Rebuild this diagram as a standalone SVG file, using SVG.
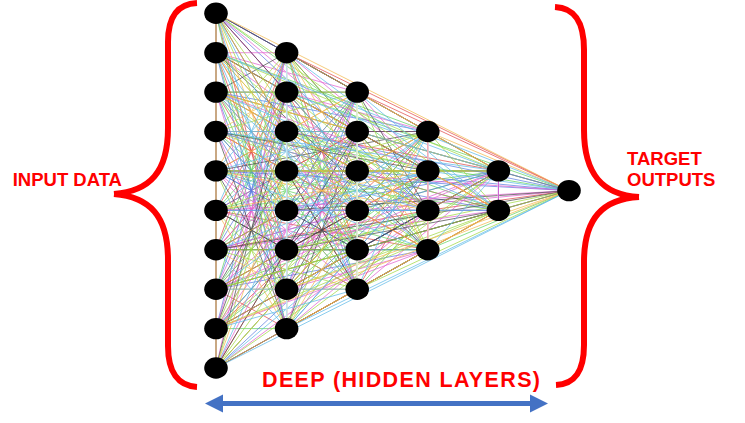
<svg xmlns="http://www.w3.org/2000/svg" width="745" height="423" viewBox="0 0 745 423">
<style>
.e{fill:none;stroke-width:1;stroke-opacity:.72;vector-effect:non-scaling-stroke}
.k0{stroke:#e04848}.k1{stroke:#5fd35f}.k2{stroke:#5b7be0}.k3{stroke:#e060d0}
.k4{stroke:#4a4a4a}.k5{stroke:#a0d840}.k6{stroke:#f2b84b}.k7{stroke:#5cb8e8}
.n{fill:#000}
.br{fill:none;stroke:#ff0000;stroke-width:6;stroke-linecap:butt}
.t{font-family:"Liberation Sans",Arial,sans-serif;font-weight:bold;fill:#ff0000}
</style>
<rect width="745" height="423" fill="#fff"/>
<g id="connectors">
<g transform="translate(216 13.3) scale(70.6 39.41)">
<path class="e k0" d="M0 0L0 8M0 1L0 7M0 2L0 6M0 3L0 5M0 0L1 7M0 1L1 6M0 2L1 5M0 3L1 4M0 4L1 3M0 5L1 2M0 6L1 1M0 7L0 9M0 0L3 3M0 1L2 7M0 2L2 6M0 3L2 5M0 4L2 4M0 5L2 3M0 6L2 2M0 7L1 8M0 8L1 7M0 9L1 6M1 1L1 5M1 2L1 4M0 2L5 4.5M0 3L4 5M0 4L4 4M0 5L3 6M0 6L3 5M0 7L3 4M0 8L3 3M0 9L2 7M1 1L2 6M1 2L2 5M1 3L2 4M1 4L2 3M1 5L2 2M1 6L1 8M1 1L5 4.5M1 2L4 5M1 3L4 4M1 4L3 6M1 5L3 5M1 6L3 4M1 7L3 3M1 8L2 7M2 2L2 6M2 3L2 5M2 2L5 4.5M2 3L4 5M2 4L4 4M2 5L3 6M2 6L3 5M2 7L3 4M3 5L5 4.5M3 6L4 5"/>
<path class="e k1" d="M0 0L0 1M0 0L0 9M0 1L0 8M0 2L0 7M0 3L0 6M0 4L0 5M0 0L1 8M0 1L1 7M0 2L1 6M0 3L1 5M0 4L1 4M0 5L1 3M0 6L1 2M0 7L1 1M0 8L0 9M0 0L3 4M0 1L3 3M0 2L2 7M0 3L2 6M0 4L2 5M0 5L2 4M0 6L2 3M0 7L2 2M0 8L1 8M0 9L1 7M1 1L1 6M1 2L1 5M1 3L1 4M0 3L5 4.5M0 4L4 5M0 5L4 4M0 6L3 6M0 7L3 5M0 8L3 4M0 9L3 3M1 1L2 7M1 2L2 6M1 3L2 5M1 4L2 4M1 5L2 3M1 6L2 2M1 7L1 8M1 2L5 4.5M1 3L4 5M1 4L4 4M1 5L3 6M1 6L3 5M1 7L3 4M1 8L3 3M2 2L2 7M2 3L2 6M2 4L2 5M2 3L5 4.5M2 4L4 5M2 5L4 4M2 6L3 6M2 7L3 5M3 3L3 4M3 6L5 4.5M4 4L4 5"/>
<path class="e k2" d="M0 0L0 2M0 0L1 1M0 1L0 9M0 2L0 8M0 3L0 7M0 4L0 6M0 0L2 2M0 1L1 8M0 2L1 7M0 3L1 6M0 4L1 5M0 5L1 4M0 6L1 3M0 7L1 2M0 8L1 1M0 0L3 5M0 1L3 4M0 2L3 3M0 3L2 7M0 4L2 6M0 5L2 5M0 6L2 4M0 7L2 3M0 8L2 2M0 9L1 8M1 1L1 7M1 2L1 6M1 3L1 5M0 4L5 4.5M0 5L4 5M0 6L4 4M0 7L3 6M0 8L3 5M0 9L3 4M1 1L3 3M1 2L2 7M1 3L2 6M1 4L2 5M1 5L2 4M1 6L2 3M1 7L2 2M1 3L5 4.5M1 4L4 5M1 5L4 4M1 6L3 6M1 7L3 5M1 8L3 4M2 2L3 3M2 3L2 7M2 4L2 6M2 4L5 4.5M2 5L4 5M2 6L4 4M2 7L3 6M3 3L3 5M4 4L5 4.5"/>
<path class="e k3" d="M0 0L0 3M0 1L0 2M0 0L1 2M0 1L1 1M0 2L0 9M0 3L0 8M0 4L0 7M0 5L0 6M0 0L2 3M0 1L2 2M0 2L1 8M0 3L1 7M0 4L1 6M0 5L1 5M0 6L1 4M0 7L1 3M0 8L1 2M0 9L1 1M0 0L3 6M0 1L3 5M0 2L3 4M0 3L3 3M0 4L2 7M0 5L2 6M0 6L2 5M0 7L2 4M0 8L2 3M0 9L2 2M1 1L1 8M1 2L1 7M1 3L1 6M1 4L1 5M0 5L5 4.5M0 6L4 5M0 7L4 4M0 8L3 6M0 9L3 5M1 1L3 4M1 2L3 3M1 3L2 7M1 4L2 6M1 5L2 5M1 6L2 4M1 7L2 3M1 8L2 2M1 4L5 4.5M1 5L4 5M1 6L4 4M1 7L3 6M1 8L3 5M2 2L3 4M2 3L3 3M2 4L2 7M2 5L2 6M2 5L5 4.5M2 6L4 5M2 7L4 4M3 3L3 6M3 4L3 5M4 5L5 4.5"/>
<path class="e k4" d="M0 0L0 4M0 1L0 3M0 0L1 3M0 1L1 2M0 2L1 1M0 3L0 9M0 4L0 8M0 5L0 7M0 0L2 4M0 1L2 3M0 2L2 2M0 3L1 8M0 4L1 7M0 5L1 6M0 6L1 5M0 7L1 4M0 8L1 3M0 9L1 2M0 0L4 4M0 1L3 6M0 2L3 5M0 3L3 4M0 4L3 3M0 5L2 7M0 6L2 6M0 7L2 5M0 8L2 4M0 9L2 3M1 1L2 2M1 2L1 8M1 3L1 7M1 4L1 6M0 6L5 4.5M0 7L4 5M0 8L4 4M0 9L3 6M1 1L3 5M1 2L3 4M1 3L3 3M1 4L2 7M1 5L2 6M1 6L2 5M1 7L2 4M1 8L2 3M1 5L5 4.5M1 6L4 5M1 7L4 4M1 8L3 6M2 2L3 5M2 3L3 4M2 4L3 3M2 5L2 7M2 6L5 4.5M2 7L4 5M3 3L4 4M3 4L3 6"/>
<path class="e k5" d="M0 0L0 5M0 1L0 4M0 2L0 3M0 0L1 4M0 1L1 3M0 2L1 2M0 3L1 1M0 4L0 9M0 5L0 8M0 6L0 7M0 0L2 5M0 1L2 4M0 2L2 3M0 3L2 2M0 4L1 8M0 5L1 7M0 6L1 6M0 7L1 5M0 8L1 4M0 9L1 3M1 1L1 2M0 0L4 5M0 1L4 4M0 2L3 6M0 3L3 5M0 4L3 4M0 5L3 3M0 6L2 7M0 7L2 6M0 8L2 5M0 9L2 4M1 1L2 3M1 2L2 2M1 3L1 8M1 4L1 7M1 5L1 6M0 7L5 4.5M0 8L4 5M0 9L4 4M1 1L3 6M1 2L3 5M1 3L3 4M1 4L3 3M1 5L2 7M1 6L2 6M1 7L2 5M1 8L2 4M2 2L2 3M1 6L5 4.5M1 7L4 5M1 8L4 4M2 2L3 6M2 3L3 5M2 4L3 4M2 5L3 3M2 6L2 7M2 7L5 4.5M3 3L4 5M3 4L4 4M3 5L3 6"/>
<path class="e k6" d="M0 0L0 6M0 1L0 5M0 2L0 4M0 0L1 5M0 1L1 4M0 2L1 3M0 3L1 2M0 4L1 1M0 5L0 9M0 6L0 8M0 0L2 6M0 1L2 5M0 2L2 4M0 3L2 3M0 4L2 2M0 5L1 8M0 6L1 7M0 7L1 6M0 8L1 5M0 9L1 4M1 1L1 3M0 0L5 4.5M0 1L4 5M0 2L4 4M0 3L3 6M0 4L3 5M0 5L3 4M0 6L3 3M0 7L2 7M0 8L2 6M0 9L2 5M1 1L2 4M1 2L2 3M1 3L2 2M1 4L1 8M1 5L1 7M0 8L5 4.5M0 9L4 5M1 1L4 4M1 2L3 6M1 3L3 5M1 4L3 4M1 5L3 3M1 6L2 7M1 7L2 6M1 8L2 5M2 2L2 4M1 7L5 4.5M1 8L4 5M2 2L4 4M2 3L3 6M2 4L3 5M2 5L3 4M2 6L3 3M3 3L5 4.5M3 4L4 5M3 5L4 4"/>
<path class="e k7" d="M0 0L0 7M0 1L0 6M0 2L0 5M0 3L0 4M0 0L1 6M0 1L1 5M0 2L1 4M0 3L1 3M0 4L1 2M0 5L1 1M0 6L0 9M0 7L0 8M0 0L2 7M0 1L2 6M0 2L2 5M0 3L2 4M0 4L2 3M0 5L2 2M0 6L1 8M0 7L1 7M0 8L1 6M0 9L1 5M1 1L1 4M1 2L1 3M0 1L5 4.5M0 2L4 5M0 3L4 4M0 4L3 6M0 5L3 5M0 6L3 4M0 7L3 3M0 8L2 7M0 9L2 6M1 1L2 5M1 2L2 4M1 3L2 3M1 4L2 2M1 5L1 8M1 6L1 7M0 9L5 4.5M1 1L4 5M1 2L4 4M1 3L3 6M1 4L3 5M1 5L3 4M1 6L3 3M1 7L2 7M1 8L2 6M2 2L2 5M2 3L2 4M1 8L5 4.5M2 2L4 5M2 3L4 4M2 4L3 6M2 5L3 5M2 6L3 4M2 7L3 3M3 4L5 4.5M3 5L4 5M3 6L4 4"/>
</g>
<line x1="216" y1="13" x2="216" y2="368" stroke="#c9a883" stroke-width="2"/>
<line x1="286.6" y1="53" x2="286.6" y2="329" stroke="#ffffff" stroke-width="1.6"/>
<line x1="286.6" y1="53" x2="286.6" y2="329" stroke="#bfe3ee" stroke-width="1"/>
<line x1="357.2" y1="92" x2="357.2" y2="289" stroke="#ffffff" stroke-width="1.6"/>
<line x1="357.2" y1="92" x2="357.2" y2="289" stroke="#d6ecc0" stroke-width="1"/>
<line x1="427.8" y1="132" x2="427.8" y2="250" stroke="#ffffff" stroke-width="1.6"/>
<line x1="427.8" y1="132" x2="427.8" y2="250" stroke="#f08a9a" stroke-width="1"/>
<line x1="498.4" y1="171" x2="498.4" y2="210" stroke="#ffffff" stroke-width="1.6"/>
<line x1="498.4" y1="171" x2="498.4" y2="210" stroke="#c850d0" stroke-width="1"/>
</g>
<g id="input-layer">
<g id="n0"><ellipse class="n" cx="216" cy="13.3" rx="11.8" ry="10.7"/></g>
<g id="n1"><ellipse class="n" cx="216" cy="52.7" rx="11.8" ry="10.7"/></g>
<g id="n2"><ellipse class="n" cx="216" cy="92.1" rx="11.8" ry="10.7"/></g>
<g id="n3"><ellipse class="n" cx="216" cy="131.5" rx="11.8" ry="10.7"/></g>
<g id="n4"><ellipse class="n" cx="216" cy="170.9" rx="11.8" ry="10.7"/></g>
<g id="n5"><ellipse class="n" cx="216" cy="210.4" rx="11.8" ry="10.7"/></g>
<g id="n6"><ellipse class="n" cx="216" cy="249.8" rx="11.8" ry="10.7"/></g>
<g id="n7"><ellipse class="n" cx="216" cy="289.2" rx="11.8" ry="10.7"/></g>
<g id="n8"><ellipse class="n" cx="216" cy="328.6" rx="11.8" ry="10.7"/></g>
<g id="n9"><ellipse class="n" cx="216" cy="368" rx="11.8" ry="10.7"/></g>
</g>
<g id="hidden-layer-1">
<g id="n10"><ellipse class="n" cx="286.6" cy="52.7" rx="11.8" ry="10.7"/></g>
<g id="n11"><ellipse class="n" cx="286.6" cy="92.1" rx="11.8" ry="10.7"/></g>
<g id="n12"><ellipse class="n" cx="286.6" cy="131.5" rx="11.8" ry="10.7"/></g>
<g id="n13"><ellipse class="n" cx="286.6" cy="170.9" rx="11.8" ry="10.7"/></g>
<g id="n14"><ellipse class="n" cx="286.6" cy="210.4" rx="11.8" ry="10.7"/></g>
<g id="n15"><ellipse class="n" cx="286.6" cy="249.8" rx="11.8" ry="10.7"/></g>
<g id="n16"><ellipse class="n" cx="286.6" cy="289.2" rx="11.8" ry="10.7"/></g>
<g id="n17"><ellipse class="n" cx="286.6" cy="328.6" rx="11.8" ry="10.7"/></g>
</g>
<g id="hidden-layer-2">
<g id="n18"><ellipse class="n" cx="357.2" cy="92.1" rx="11.8" ry="10.7"/></g>
<g id="n19"><ellipse class="n" cx="357.2" cy="131.5" rx="11.8" ry="10.7"/></g>
<g id="n20"><ellipse class="n" cx="357.2" cy="170.9" rx="11.8" ry="10.7"/></g>
<g id="n21"><ellipse class="n" cx="357.2" cy="210.4" rx="11.8" ry="10.7"/></g>
<g id="n22"><ellipse class="n" cx="357.2" cy="249.8" rx="11.8" ry="10.7"/></g>
<g id="n23"><ellipse class="n" cx="357.2" cy="289.2" rx="11.8" ry="10.7"/></g>
</g>
<g id="hidden-layer-3">
<g id="n24"><ellipse class="n" cx="427.8" cy="131.5" rx="11.8" ry="10.7"/></g>
<g id="n25"><ellipse class="n" cx="427.8" cy="170.9" rx="11.8" ry="10.7"/></g>
<g id="n26"><ellipse class="n" cx="427.8" cy="210.4" rx="11.8" ry="10.7"/></g>
<g id="n27"><ellipse class="n" cx="427.8" cy="249.8" rx="11.8" ry="10.7"/></g>
</g>
<g id="hidden-layer-4">
<g id="n28"><ellipse class="n" cx="498.4" cy="170.9" rx="11.8" ry="10.7"/></g>
<g id="n29"><ellipse class="n" cx="498.4" cy="210.4" rx="11.8" ry="10.7"/></g>
</g>
<g id="output-layer">
<g id="n30"><ellipse class="n" cx="569" cy="190.6" rx="11.8" ry="10.7"/></g>
</g>
<g id="input-brace">
<path class="br" d="M197 3C177 4 168 17 168 42L168 128C168 172 150 191 114 194"/>
<path class="br" d="M114 194C150 197 168 216 168 260L168 346C168 372 178 386 197 387"/>
<text class="t" x="12.7" y="186" font-size="18.5">INPUT DATA</text>
</g>
<g id="output-brace">
<path class="br" d="M555 7C575 8 584 22 584 50L584 130C584 175 603 195 639 197"/>
<path class="br" d="M639 197C603 199 584 218 584 262L584 345C584 371 575 384 556 385"/>
<text class="t" x="627" y="164.5" font-size="18.5">TARGET</text>
<text class="t" x="627" y="186" font-size="18.5">OUTPUTS</text>
</g>
<g id="depth-arrow">
<text class="t" x="262" y="387" font-size="21.5" textLength="278" lengthAdjust="spacing">DEEP (HIDDEN LAYERS)</text>
<line x1="222" y1="403.5" x2="531" y2="403.5" stroke="#4472c4" stroke-width="5"/>
<polygon points="205,403.5 223,394.5 223,412.5" fill="#4472c4"/>
<polygon points="548,403.5 530,394.5 530,412.5" fill="#4472c4"/>
</g>
</svg>
